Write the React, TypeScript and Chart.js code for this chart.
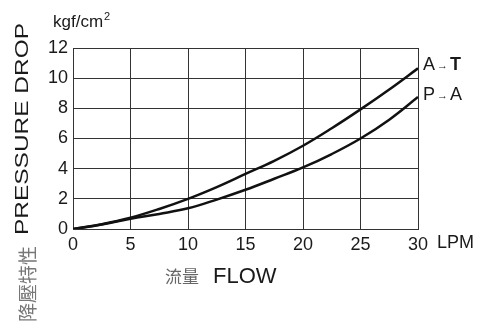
import React, { useEffect, useRef } from "react";
import { Chart, registerables } from "chart.js";

Chart.register(...registerables);

const flow = [0, 2.5, 5, 7.5, 10, 12.5, 15, 17.5, 20, 22.5, 25, 27.5, 30];
const aToT = [0, 0.32, 0.75, 1.33, 2.0, 2.78, 3.65, 4.52, 5.52, 6.68, 7.93, 9.25, 10.65];
const pToA = [0, 0.3, 0.68, 1.0, 1.37, 1.95, 2.6, 3.33, 4.08, 4.97, 6.0, 7.25, 8.75];
const xTicks = [0, 5, 10, 15, 20, 25, 30];
const yTicks = [0, 2, 4, 6, 8, 10, 12];

const SANS = "'Liberation Sans', Arial, sans-serif";
const CJK = "'Noto Sans CJK TC', 'Noto Sans CJK SC', sans-serif";

const textPlugin = {
  id: "texts",
  afterDraw(chart: any) {
    const ctx = chart.ctx as CanvasRenderingContext2D;
    ctx.save();
    ctx.fillStyle = "#1a1a1a";
    ctx.textAlign = "left";
    // unit
    ctx.textBaseline = "alphabetic";
    ctx.font = `17px ${SANS}`;
    ctx.fillText("kgf/cm", 53, 27);
    const uw = ctx.measureText("kgf/cm").width;
    ctx.font = `11px ${SANS}`;
    ctx.fillText("2", 53 + uw + 1, 20);
    // LPM
    ctx.font = `18px ${SANS}`;
    ctx.textBaseline = "middle";
    ctx.fillText("LPM", 437, 243);
    // series labels
    const drawLabel = (l: string, r: string, y: number, boldR: boolean) => {
      ctx.font = `18px ${SANS}`;
      ctx.fillText(l, 423, y);
      let x = 423 + ctx.measureText(l).width + 2;
      ctx.font = `11px ${SANS}`;
      ctx.fillText("→", x, y + 1);
      x += ctx.measureText("→").width + 2;
      ctx.font = `${boldR ? "bold " : ""}18px ${SANS}`;
      ctx.fillText(r, x, y);
    };
    drawLabel("A", "T", 65, true);
    drawLabel("P", "A", 95, false);
    // x title
    ctx.textBaseline = "alphabetic";
    ctx.fillStyle = "#666";
    ctx.font = `17px ${CJK}`;
    ctx.fillText("流量", 165, 283);
    ctx.fillStyle = "#1a1a1a";
    ctx.font = `22px ${SANS}`;
    ctx.fillText("FLOW", 213, 283);
    // y title rotated
    ctx.save();
    ctx.translate(28, 235);
    ctx.rotate(-Math.PI / 2);
    ctx.font = `18px ${SANS}`;
    const w = ctx.measureText("PRESSURE DROP").width;
    ctx.scale(212 / w, 1);
    ctx.fillText("PRESSURE DROP", 0, 0);
    ctx.restore();
    ctx.save();
    ctx.translate(35, 322);
    ctx.rotate(-Math.PI / 2);
    ctx.fillStyle = "#777";
    ctx.font = `19px ${CJK}`;
    ctx.fillText("降壓特性", 0, 0);
    ctx.restore();
    ctx.restore();
  },
};

export default function App() {
  const ref = useRef<HTMLCanvasElement>(null);
  useEffect(() => {
    if (!ref.current) return;
    const chart = new Chart(ref.current, {
      type: "line",
      data: {
        datasets: [
          {
            label: "A→T",
            data: flow.map((x, i) => ({ x, y: aToT[i] })),
            borderColor: "#111",
            borderWidth: 2.5,
            pointRadius: 0,
            tension: 0.4,
          },
          {
            label: "P→A",
            data: flow.map((x, i) => ({ x, y: pToA[i] })),
            borderColor: "#111",
            borderWidth: 2.5,
            pointRadius: 0,
            tension: 0.4,
          },
        ],
      },
      options: {
        animation: false,
        responsive: false,
        layout: { padding: { left: 0, top: 48, right: 67, bottom: 0 } },
        plugins: { legend: { display: false }, tooltip: { enabled: false } },
        scales: {
          x: {
            type: "linear",
            min: 0,
            max: 30,
            afterBuildTicks: (s: any) => {
              s.ticks = xTicks.map((v) => ({ value: v }));
            },
            afterFit: (s: any) => {
              s.height = 98;
            },
            grid: { color: "#333", lineWidth: 1, drawTicks: false },
            border: { color: "#333", width: 1 },
            ticks: {
              padding: 5,
              color: "#1a1a1a",
              font: { family: SANS, size: 18 },
              maxRotation: 0,
            },
          },
          y: {
            type: "linear",
            min: 0,
            max: 12,
            afterBuildTicks: (s: any) => {
              s.ticks = yTicks.map((v) => ({ value: v }));
            },
            afterFit: (s: any) => {
              s.width = 73;
            },
            grid: { color: "#333", lineWidth: 1, drawTicks: false },
            border: { color: "#333", width: 1 },
            ticks: {
              padding: 5,
              color: "#1a1a1a",
              font: { family: SANS, size: 18 },
            },
          },
        },
      },
      plugins: [textPlugin],
    } as any);
    return () => chart.destroy();
  }, []);
  return (
    <div style={{ position: "absolute", left: 0, top: 0, width: 485, height: 327, background: "#fff" }}>
      <canvas ref={ref} width={485} height={327} style={{ display: "block" }} />
    </div>
  );
}
